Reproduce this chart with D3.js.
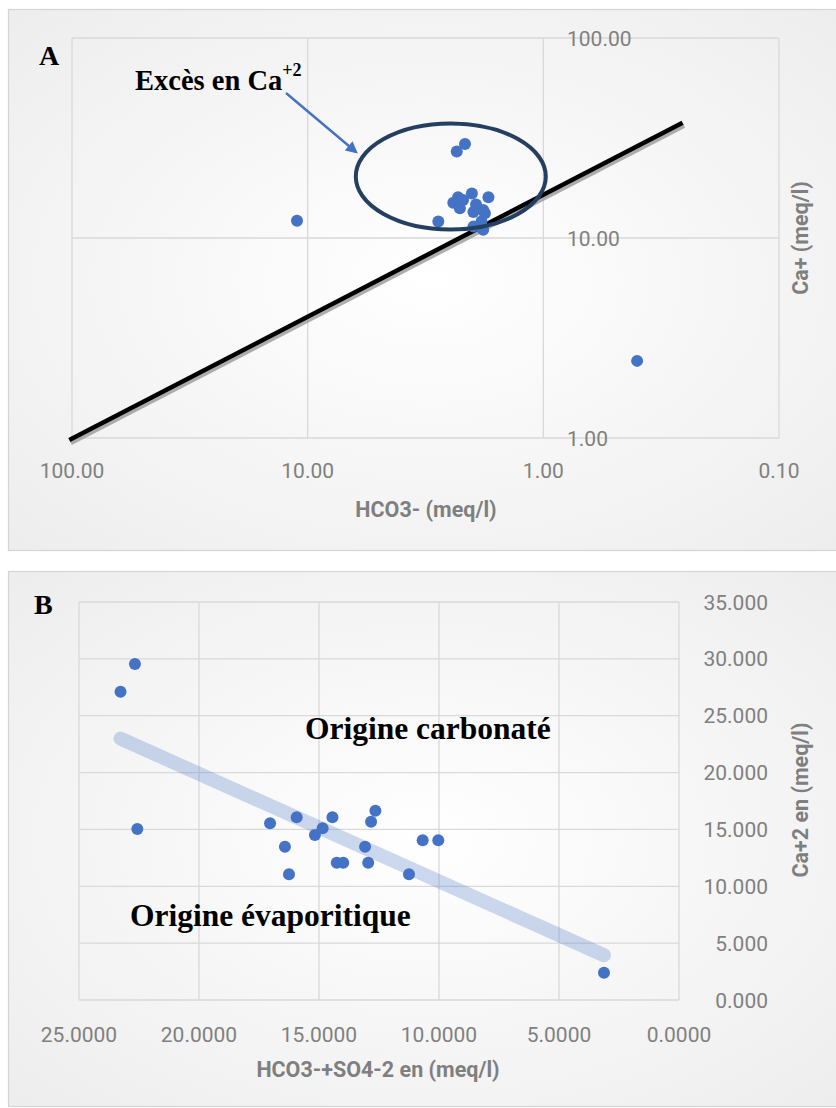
<!DOCTYPE html>
<html><head><meta charset="utf-8">
<script src="https://cdn.jsdelivr.net/npm/d3@7"></script>
<style>body{margin:0;background:#fff}svg{display:block}</style>
</head><body>
<svg id="c" width="836" height="1108"></svg>
<script>
// ---- Panel A data (log-log) ----
const hco3 = [2.15, 2.33, 2.79, 2.30, 2.41, 2.01, 1.71, 1.93, 1.80, 1.98, 1.77, 2.26, 1.83, 1.98, 1.80, 2.19, 11.1, 0.40];
const caA  = [29.5, 27.1, 12.1, 16.0, 15.0, 16.7, 16.0, 14.7, 13.8, 13.5, 13.3, 14.1, 12.1, 11.4, 11.0, 15.5, 12.2, 2.43];
const refLineX = [102.7, 0.2565];
const refLineY = [0.977, 37.7];
const ellipseCenter = [2.47, 20.3];
const xTicksA = [100, 10, 1, 0.1];
const yTicksA = [100, 10, 1];
// ---- Panel B data (linear) ----
const sumB = [22.67, 23.27, 22.57, 17.04, 15.93, 16.42, 16.25, 15.17, 14.85, 14.44, 14.26, 13.99, 13.08, 12.83, 12.65, 12.95, 11.25, 10.68, 10.03, 3.125];
const caB  = [29.55, 27.1, 15.04, 15.54, 16.07, 13.48, 11.05, 14.51, 15.1, 16.07, 12.08, 12.08, 13.48, 15.68, 16.65, 12.08, 11.05, 14.05, 14.05, 2.4];
const xTicksB = [25, 20, 15, 10, 5, 0];
const yTicksB = [0, 5, 10, 15, 20, 25, 30, 35];

const svg = d3.select("#c");
const defs = svg.append("defs");
const grad = defs.append("radialGradient").attr("id","bg").attr("cx","50%").attr("cy","50%").attr("r","75%");
grad.append("stop").attr("offset","0%").attr("stop-color","#ffffff");
grad.append("stop").attr("offset","100%").attr("stop-color","#ececec");
const mk = defs.append("marker").attr("id","arr").attr("viewBox","0 0 10 10").attr("refX",8).attr("refY",5)
  .attr("markerWidth",14).attr("markerHeight",12).attr("orient","auto").attr("markerUnits","userSpaceOnUse");
mk.append("path").attr("d","M0,0 L10,5 L0,10 z").attr("fill","#4472C4");

const tickFont = "Roboto, 'Open Sans', sans-serif";
const serif = "'Liberation Serif','Times New Roman',serif";
const gridCol = "#d9d9d9", labCol = "#808080", titleCol = "#7f7f7f", dotCol = "#4472C4";

// ================= Panel A =================
svg.append("rect").attr("x",8.5).attr("y",9.5).attr("width",840).attr("height",541)
  .attr("fill","url(#bg)").attr("stroke","#d4d4d4").attr("stroke-width",1.2);
const xA = d3.scaleLog().domain([100, 0.1]).range([72, 779]);
const yA = d3.scaleLog().domain([1, 100]).range([438, 38]);
const gA = svg.append("g");
gA.selectAll(".vx").data(xTicksA).join("line")
  .attr("x1",d=>xA(d)).attr("x2",d=>xA(d)).attr("y1",yA(100)).attr("y2",yA(1))
  .attr("stroke",gridCol).attr("stroke-width",1.3);
gA.selectAll(".hy").data(yTicksA).join("line")
  .attr("x1",xA(100)).attr("x2",xA(0.1)).attr("y1",d=>yA(d)).attr("y2",d=>yA(d))
  .attr("stroke",gridCol).attr("stroke-width",1.3);
gA.selectAll(".xl").data(xTicksA).join("text")
  .attr("x",d=>xA(d)).attr("y",478).attr("text-anchor","middle")
  .attr("font-family",tickFont).attr("font-size",21).attr("fill",labCol)
  .text(d=>d3.format(".2f")(d));
gA.selectAll(".yl").data(yTicksA).join("text")
  .attr("x",567).attr("y",d=>yA(d)+7.5).attr("text-anchor","start")
  .attr("font-family",tickFont).attr("font-size",21).attr("fill",labCol)
  .text(d=>d3.format(".2f")(d));
gA.append("text").attr("x",426).attr("y",517).attr("text-anchor","middle")
  .attr("font-family",tickFont).attr("font-weight","bold").attr("font-size",21.5).attr("fill",titleCol)
  .text("HCO3- (meq/l)");
gA.append("text").attr("transform","translate(808,238) rotate(-90)").attr("text-anchor","middle")
  .attr("font-family",tickFont).attr("font-weight","bold").attr("font-size",21.5).attr("fill",titleCol)
  .text("Ca+ (meq/l)");
gA.append("line").attr("x1",xA(refLineX[0])+1.5).attr("y1",yA(refLineY[0])+3).attr("x2",xA(refLineX[1])+1.5).attr("y2",yA(refLineY[1])+3)
  .attr("stroke","#9a9a9a").attr("stroke-width",4.5).attr("opacity",0.8);
gA.append("line").attr("x1",xA(refLineX[0])).attr("y1",yA(refLineY[0])).attr("x2",xA(refLineX[1])).attr("y2",yA(refLineY[1]))
  .attr("stroke","#000").attr("stroke-width",4.5);
gA.selectAll(".pa").data(hco3).join("circle")
  .attr("cx",d=>xA(d)).attr("cy",(d,i)=>yA(caA[i])).attr("r",6).attr("fill",dotCol);
gA.append("ellipse").attr("cx",xA(ellipseCenter[0])).attr("cy",yA(ellipseCenter[1])).attr("rx",95).attr("ry",53)
  .attr("fill","none").attr("stroke","#243f60").attr("stroke-width",4);
gA.append("line").attr("x1",286).attr("y1",93).attr("x2",356).attr("y2",152)
  .attr("stroke","#4472C4").attr("stroke-width",2.4).attr("marker-end","url(#arr)");
gA.append("text").attr("x",39).attr("y",65).attr("font-family",serif).attr("font-weight","bold").attr("font-size",28).text("A");
const t1 = gA.append("text").attr("x",135).attr("y",90).attr("font-family",serif).attr("font-weight","bold").attr("font-size",28.5);
t1.append("tspan").text("Excès en Ca");
t1.append("tspan").attr("dy",-14).attr("font-size",18).text("+2");

// ================= Panel B =================
svg.append("rect").attr("x",8.5).attr("y",571.5).attr("width",840).attr("height",535)
  .attr("fill","url(#bg)").attr("stroke","#d4d4d4").attr("stroke-width",1.2);
const xB = d3.scaleLinear().domain([25, 0]).range([79, 679]);
const yB = d3.scaleLinear().domain([0, 35]).range([1000, 602]);
const gB = svg.append("g");
gB.selectAll(".vx").data(xTicksB).join("line")
  .attr("x1",d=>xB(d)).attr("x2",d=>xB(d)).attr("y1",yB(35)).attr("y2",yB(0))
  .attr("stroke",gridCol).attr("stroke-width",1.3);
gB.selectAll(".hy").data(yTicksB).join("line")
  .attr("x1",xB(25)).attr("x2",xB(0)).attr("y1",d=>yB(d)).attr("y2",d=>yB(d))
  .attr("stroke",gridCol).attr("stroke-width",1.3);
gB.selectAll(".xl").data(xTicksB).join("text")
  .attr("x",d=>xB(d)).attr("y",1042).attr("text-anchor","middle")
  .attr("font-family",tickFont).attr("font-size",21).attr("fill",labCol)
  .text(d=>d3.format(".4f")(d));
gB.selectAll(".yl").data(yTicksB).join("text")
  .attr("x",768).attr("y",d=>yB(d)+7.5).attr("text-anchor","end")
  .attr("font-family",tickFont).attr("font-size",21).attr("fill",labCol)
  .text(d=>d3.format(".3f")(d));
gB.append("text").attr("x",378).attr("y",1077).attr("text-anchor","middle")
  .attr("font-family",tickFont).attr("font-weight","bold").attr("font-size",21.5).attr("fill",titleCol)
  .text("HCO3-+SO4-2 en (meq/l)");
gB.append("text").attr("transform","translate(808,800) rotate(-90)").attr("text-anchor","middle")
  .attr("font-family",tickFont).attr("font-weight","bold").attr("font-size",21.5).attr("fill",titleCol)
  .text("Ca+2 en (meq/l)");
const n = sumB.length, mx = d3.mean(sumB), my = d3.mean(caB);
let sxy=0, sxx=0; for(let i=0;i<n;i++){sxy+=(sumB[i]-mx)*(caB[i]-my); sxx+=(sumB[i]-mx)**2;}
const slope = sxy/sxx, icpt = my - slope*mx;
const tx = d3.extent(sumB);
gB.append("line").attr("x1",xB(tx[0])).attr("y1",yB(icpt+slope*tx[0])).attr("x2",xB(tx[1])).attr("y2",yB(icpt+slope*tx[1]))
  .attr("stroke","#4472C4").attr("stroke-opacity",0.27).attr("stroke-width",14).attr("stroke-linecap","round");
gB.selectAll(".pb").data(sumB).join("circle")
  .attr("cx",d=>xB(d)).attr("cy",(d,i)=>yB(caB[i])).attr("r",6).attr("fill",dotCol);
gB.append("text").attr("x",34).attr("y",614).attr("font-family",serif).attr("font-weight","bold").attr("font-size",28).text("B");
gB.append("text").attr("x",305).attr("y",739).attr("font-family",serif).attr("font-weight","bold").attr("font-size",31.5).text("Origine carbonaté");
gB.append("text").attr("x",130).attr("y",926).attr("font-family",serif).attr("font-weight","bold").attr("font-size",31.5).text("Origine évaporitique");
</script>
</body></html>
